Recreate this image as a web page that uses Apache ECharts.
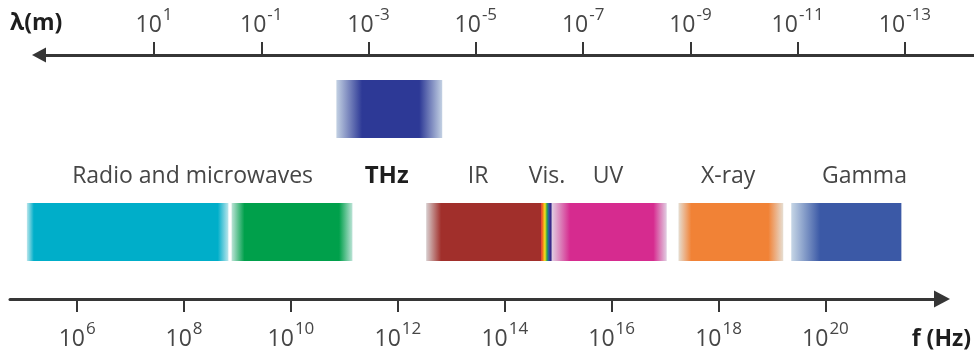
<!DOCTYPE html>
<html>
<head>
<meta charset="utf-8">
<script src="https://cdn.jsdelivr.net/npm/echarts@6/dist/echarts.min.js"></script>
<style>
  html, body { margin: 0; padding: 0; background: #ffffff; }
  #chart { width: 974px; height: 356px; }
</style>
</head>
<body>
<div id="chart"></div>
<script>
// Exponents shown on the frequency axis, f = 10^n Hz
const freqExponents = [6, 8, 10, 12, 14, 16, 18, 20];
// Exponents shown on the wavelength axis, λ = 10^n m
const wavelengthExponents = [1, -1, -3, -5, -7, -9, -11, -13];

// Spectral bands, all extents in log10(f / Hz):
// outer edge where the band fades in, start of solid colour, end of solid colour, outer edge where it fades out
const bandNames       = ['Radio', 'Microwaves', 'THz', 'IR', 'Vis.', 'UV', 'X-ray', 'Gamma'];
const bandFadeStart   = [5.06, 8.89, 10.85, 12.53, 14.68, 14.88, 17.25, 19.36];
const bandSolidStart  = [5.19, 9.13, 11.33, 12.81, 14.68, 15.22, 17.49, 19.90];
const bandSolidEnd    = [8.63, 10.90, 12.40, 14.68, 14.88, 16.78, 18.93, 21.42];
const bandFadeEnd     = [8.83, 11.15, 12.83, 14.68, 14.88, 17.03, 19.21, 21.42];

// Band captions and their centres in log10(f / Hz)
const captionTexts   = ['Radio and microwaves', 'THz', 'IR', 'Vis.', 'UV', 'X-ray', 'Gamma'];
const captionCentres = [8.16, 11.79, 13.50, 14.79, 15.93, 18.18, 20.73];

// ---- styling / layout ----
const FONT = '"Open Sans", "Noto Sans", sans-serif';
const AXIS_COLOR = '#363636';
const TEXT_COLOR = '#464646';
const bandColors = {
  'Radio': '#00aec9',
  'Microwaves': '#00a04b',
  'THz': '#2d3996',
  'IR': '#a12f2b',
  'UV': '#d62b8f',
  'X-ray': '#f18236',
  'Gamma': '#3b59a6'
};
const visibleStops = [
  [0.00, '#e1261c'], [0.18, '#f08a1d'], [0.36, '#f4e31b'],
  [0.55, '#2fa54a'], [0.72, '#2a58ad'], [0.86, '#3a2a8a'], [1.00, '#3a2a8a']
];
const upperRowBands = ['THz'];
const ROW_UPPER = 190;     // vertical centre of the upper bar row (plot units)
const ROW_LOWER = 67;      // vertical centre of the lower bar row
const ROW_CAPTION = 123;   // vertical centre of the captions
const BAR_HEIGHT = 58;

function mixColor(hexA, hexB, t) {
  const a = parseInt(hexA.slice(1), 16), b = parseInt(hexB.slice(1), 16);
  const ch = (v, s) => (v >> s) & 255;
  const m = s => Math.round(ch(a, s) * (1 - t) + ch(b, s) * t);
  return 'rgb(' + m(16) + ',' + m(8) + ',' + m(0) + ')';
}
const PALE = '#e4f2f4';

const bandData = bandNames.map((name, i) => [
  bandFadeStart[i], bandSolidStart[i], bandSolidEnd[i], bandFadeEnd[i],
  upperRowBands.indexOf(name) >= 0 ? ROW_UPPER : ROW_LOWER, i
]);
const captionData = captionTexts.map((t, i) => [captionCentres[i], ROW_CAPTION, i]);

function renderBand(params, api) {
  const idx = api.value(5);
  const name = bandNames[idx];
  const rowY = api.value(4);
  const p0 = api.coord([api.value(0), rowY]);
  const p1 = api.coord([api.value(1), rowY]);
  const p2 = api.coord([api.value(2), rowY]);
  const p3 = api.coord([api.value(3), rowY]);
  const h = api.size([0, BAR_HEIGHT])[1];
  const w = p3[0] - p0[0];
  let stops;
  if (name === 'Vis.') {
    stops = visibleStops.map(s => ({ offset: s[0], color: s[1] }));
  } else {
    const c = bandColors[name];
    const pale = mixColor(c, PALE, 0.82);
    const o1 = (p1[0] - p0[0]) / w;
    const o2 = (p2[0] - p0[0]) / w;
    stops = [
      { offset: 0, color: o1 > 0 ? pale : c },
      { offset: o1 * 0.45, color: o1 > 0 ? mixColor(c, PALE, 0.45) : c },
      { offset: o1, color: c },
      { offset: o2, color: c },
      { offset: o2 + (1 - o2) * 0.55, color: o2 < 1 ? mixColor(c, PALE, 0.45) : c },
      { offset: 1, color: o2 < 1 ? pale : c }
    ];
  }
  return {
    type: 'rect',
    shape: { x: p0[0], y: p0[1] - h / 2, width: w, height: h },
    style: { fill: new echarts.graphic.LinearGradient(0, 0, 1, 0, stops) }
  };
}

function renderCaption(params, api) {
  const i = api.value(2);
  const p = api.coord([api.value(0), api.value(1)]);
  const bold = captionTexts[i] === 'THz';
  return {
    type: 'text',
    x: p[0], y: p[1],
    style: {
      text: captionTexts[i],
      fill: bold ? '#1e1e1e' : TEXT_COLOR,
      fontSize: bold ? 24 : 23,
      fontWeight: bold ? 'bold' : 'normal',
      fontFamily: FONT,
      align: 'center',
      verticalAlign: 'middle'
    }
  };
}

const powerRich = {
  b: { fontSize: 23, fontFamily: FONT, color: TEXT_COLOR, verticalAlign: 'bottom', lineHeight: 30 },
  s: { fontSize: 17, fontFamily: FONT, color: TEXT_COLOR, verticalAlign: 'top', lineHeight: 16, padding: [0, 0, 0, 1] }
};
const powerLabel = v => '{b|10}{s|' + v + '}';

const chart = echarts.init(document.getElementById('chart'), null, { renderer: 'canvas' });
chart.setOption({
  animation: false,
  backgroundColor: '#ffffff',
  grid: [
    { left: 39, right: 0, top: 55, height: 10 },
    { left: 10, right: 30, top: 80, height: 219 }
  ],
  xAxis: [
    {
      gridIndex: 0, type: 'value', position: 'top', inverse: true,
      min: -14.287, max: 3.144,
      name: 'λ(m)', nameLocation: 'end', nameGap: 29,
      nameTextStyle: { fontSize: 23, fontWeight: 'bold', fontFamily: FONT, color: '#1e1e1e',
        align: 'left', verticalAlign: 'bottom', padding: [0, 0, 20, 0] },
      axisLine: { show: true, onZero: false, symbol: ['triangle', 'none'], symbolSize: [15, 14],
        lineStyle: { color: AXIS_COLOR, width: 3 } },
      axisTick: { show: true, customValues: wavelengthExponents, length: 13,
        lineStyle: { color: AXIS_COLOR, width: 2 } },
      axisLabel: { show: true, customValues: wavelengthExponents, margin: 18,
        formatter: powerLabel, rich: powerRich },
      splitLine: { show: false }
    },
    {
      gridIndex: 1, type: 'value', position: 'bottom',
      min: 4.744, max: 22.18,
      name: 'f (Hz)', nameLocation: 'end', nameGap: 29,
      nameTextStyle: { fontSize: 23, fontWeight: 'bold', fontFamily: FONT, color: '#1e1e1e',
        align: 'right', verticalAlign: 'top', padding: [29, 0, 0, 0] },
      axisLine: { show: true, onZero: false, symbol: ['none', 'triangle'], symbolSize: [17, 16],
        lineStyle: { color: AXIS_COLOR, width: 3 } },
      axisTick: { show: true, customValues: freqExponents, length: 13,
        lineStyle: { color: AXIS_COLOR, width: 2 } },
      axisLabel: { show: true, customValues: freqExponents, margin: 22,
        formatter: powerLabel, rich: powerRich },
      splitLine: { show: false }
    }
  ],
  yAxis: [
    { gridIndex: 0, type: 'value', show: false },
    { gridIndex: 1, type: 'value', show: false, min: 0, max: 219 }
  ],
  series: [
    {
      type: 'custom', name: 'bands', xAxisIndex: 1, yAxisIndex: 1,
      renderItem: renderBand, data: bandData, silent: true,
      encode: { x: [0, 1, 2, 3], y: 4 }
    },
    {
      type: 'custom', name: 'captions', xAxisIndex: 1, yAxisIndex: 1,
      renderItem: renderCaption, data: captionData, silent: true,
      encode: { x: 0, y: 1 }
    }
  ]
});
</script>
</body>
</html>
